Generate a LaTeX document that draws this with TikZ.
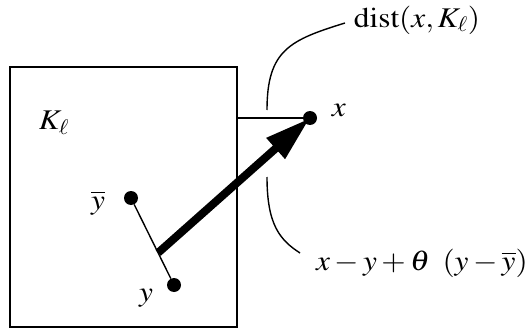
\documentclass[tikz,border=0pt]{standalone}
\usepackage{mathptmx}
\usetikzlibrary{arrows.meta,calc}
\newcommand{\wide}[1]{\scalebox{1.1}[1]{#1}}
\begin{document}
\begin{tikzpicture}[x=1pt,y=-1pt,
  dot/.style={circle,fill=black,inner sep=0pt,minimum size=14pt},
  lbl/.style={font=\fontsize{28.5}{33}\selectfont,inner sep=0pt},
  thin/.style={line width=1.4pt},
  bigarrow/.style={line width=8pt,-{Triangle[length=46pt,width=26pt]}}]
\useasboundingbox (0,0) rectangle (530,329);
\node[draw,line width=2pt,minimum width=227pt,minimum height=260pt,inner sep=0pt] (box) at (123.5,197) {};
\node[dot] (x) at (310,118) {};
\node[dot] (yb) at (131,198) {};
\node[dot] (y) at (174,285) {};
\node[lbl] (Kl) at (54,123) {\wide{$K_{\ell}$}};
\node[lbl] (xl) at (339,110) {\wide{$x$}};
\node[lbl] (ybl) at (98,203) {\wide{$\overline{y}$}};
\node[lbl] (yl) at (146,298) {\wide{$y$}};
\node[lbl] (dist) at (417,20) {\wide{$\mathrm{dist}(x,K_{\ell})$}};
\node[lbl,anchor=east] (expr) at (528,263) {\wide{$x-y+\theta\hspace{0.4em}(y-\overline{y})$}};
\coordinate (bx) at (box.east |- x);
\draw[thin] (bx) -- (x);
\draw[thin] (yb) -- (y);
\coordinate (s) at ($(yb)!0.63!(y)$);
\draw[bigarrow] (s) -- (x.center);
\coordinate (c1) at (267,110);
\coordinate (c2) at (267,177);
\coordinate (d1) at (345,23);
\coordinate (d2) at (300,253);
\draw[thin] (c1) .. controls (267,50) and (290,40) .. (d1);
\draw[thin] (c2) .. controls (267,225) and (280,240) .. (d2);
\end{tikzpicture}
\end{document}
